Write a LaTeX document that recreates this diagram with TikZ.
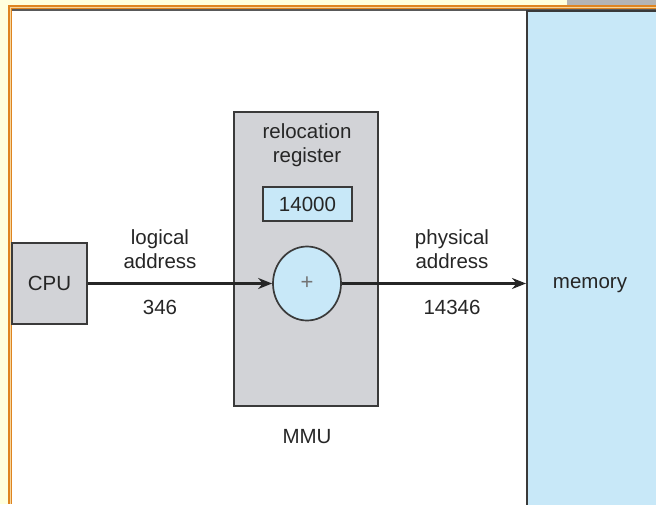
\documentclass[tikz,border=0pt]{standalone}
\usepackage{fontspec}
\setmainfont{Liberation Sans}
\usetikzlibrary{arrows.meta,shapes.geometric}
\definecolor{bgyellow}{HTML}{FFFFDD}
\definecolor{frameorange}{HTML}{DE8420}
\definecolor{framelight}{HTML}{F6D59C}
\definecolor{topgray}{HTML}{B4B4B4}
\definecolor{boxgray}{HTML}{D2D3D7}
\definecolor{lightblue}{HTML}{C8E8F8}
\definecolor{edge}{HTML}{3A3A3A}
\definecolor{txt}{HTML}{262626}
\tikzset{
  box/.style={draw=edge, line width=1.7pt, inner sep=0pt, text=txt},
  lbl/.style={inner sep=0pt, text=txt, align=center, font=\fontsize{20.5}{23.5}\selectfont},
  arr/.style={draw=black!85, line width=2.6pt, -{Stealth[length=14pt,width=11pt]}}
}
\begin{document}
\begin{tikzpicture}[x=1pt,y=-1pt]
\useasboundingbox (0,0) rectangle (656,504);
% frame background
\fill[bgyellow] (0,0) rectangle (656,504);
\fill[topgray] (567,0) rectangle (656,5.5);
\fill[frameorange] (8.3,5.3) rectangle (656,504);
\fill[framelight] (9.6,6.6) rectangle (656,504);
\fill[frameorange] (10.9,7.9) rectangle (656,504);
\fill[white] (12.3,9.3) rectangle (656,504);
\fill[black!65] (12.3,9.3) rectangle (656,11);
% memory
\node[box, fill=lightblue, minimum width=136pt, minimum height=498pt, anchor=north west] (mem) at (526,10) {};
\node[lbl] (memtxt) at (590,285) {memory};
% CPU
\node[box, fill=boxgray, minimum width=75pt, minimum height=81pt] (cpu) at (49.5,283.5) {\fontsize{20.5}{23.5}\selectfont CPU};
% MMU
\node[box, fill=boxgray, minimum width=144pt, minimum height=294pt] (mmu) at (306,259) {};
\node[lbl] (reltxt) at (307,145) {relocation\\register};
\node[box, fill=lightblue, minimum width=89pt, minimum height=34pt] (reg) at (307.5,204) {\fontsize{20.5}{23.5}\selectfont 14000};
\node[draw=edge, line width=1.7pt, fill=lightblue, ellipse, minimum width=68pt, minimum height=74pt, inner sep=0pt] (add) at (307,283.5) {};
\node[text=black!55, inner sep=0pt, font=\fontsize{22}{22}\selectfont] (plus) at (add.center) {+};
\node[lbl] (mmutxt) at (307,437) {MMU};
% arrows
\draw[arr] (cpu.east) -- (add.west);
\draw[arr] (add.east) -- (add.east -| mem.west);
% labels
\node[lbl] (logtxt) at (160,249) {logical\\address};
\node[lbl] (lognum) at (160,307) {346};
\node[lbl] (phytxt) at (452,249) {physical\\address};
\node[lbl] (phynum) at (452,307) {14346};
\end{tikzpicture}
\end{document}
